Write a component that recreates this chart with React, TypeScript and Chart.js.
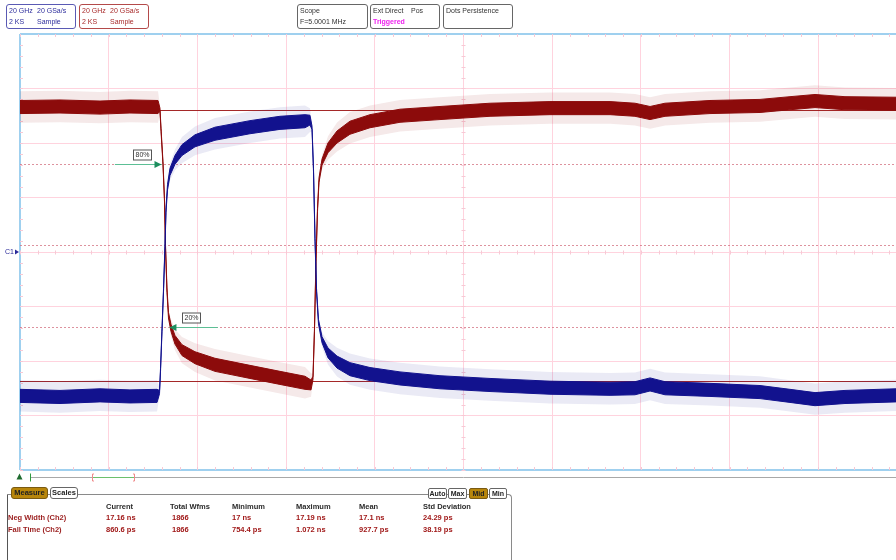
import React, { useEffect, useRef } from "react";
import { Chart, registerables } from "chart.js";

Chart.register(...registerables);

// ---- Data (time in ns, level in vertical divisions) ----
const redTime = [0, 4.51, 9.02, 12.4, 15.56, 15.78, 15.9, 16.12, 16.29, 16.4, 16.57, 16.74, 17.02, 17.47, 18.26, 19.73, 21.98, 25.93, 29.31, 32.13, 32.81, 33.03, 33.2, 33.37, 33.54, 33.71, 34.05, 34.72, 35.74, 37.2, 39.46, 42.84, 47.35, 52.99, 59.75, 66.52, 69.33, 71.03, 72.72, 77.79, 83.43, 86.81, 89.63, 93.01, 98.76];
const redLevel = [2.66, 2.67, 2.65, 2.67, 2.66, 2.61, 2.24, 1.63, 0.95, 0.13, -0.7, -1.16, -1.39, -1.61, -1.8, -1.94, -2.07, -2.2, -2.31, -2.4, -2.44, -2.31, -1.43, -0.15, 0.77, 1.32, 1.65, 1.91, 2.11, 2.28, 2.4, 2.5, 2.55, 2.61, 2.64, 2.64, 2.61, 2.55, 2.61, 2.66, 2.68, 2.73, 2.77, 2.73, 2.72];
const redSpread = [0.12, 0.12, 0.12, 0.12, 0.12, 0.03, 0.03, 0.03, 0.03, 0.03, 0.04, 0.05, 0.065, 0.08, 0.1, 0.11, 0.12, 0.12, 0.12, 0.12, 0.09, 0.03, 0.03, 0.03, 0.03, 0.04, 0.055, 0.09, 0.11, 0.12, 0.12, 0.12, 0.12, 0.12, 0.12, 0.12, 0.12, 0.12, 0.12, 0.12, 0.12, 0.12, 0.12, 0.12, 0.12];

const blueTime = [0, 4.51, 9.02, 12.4, 15.45, 15.73, 15.84, 16.01, 16.18, 16.35, 16.46, 16.63, 16.91, 17.47, 18.26, 19.73, 21.98, 25.93, 29.31, 32.13, 32.69, 32.92, 33.09, 33.26, 33.43, 33.65, 34.05, 34.72, 35.74, 37.2, 39.46, 42.84, 47.35, 52.99, 59.75, 66.52, 69.33, 71.03, 72.72, 77.79, 83.43, 86.81, 89.63, 93.01, 98.76];
const blueLevel = [-2.64, -2.66, -2.63, -2.65, -2.64, -2.57, -2.17, -1.43, -0.7, 0.13, 0.77, 1.19, 1.47, 1.69, 1.87, 2.04, 2.17, 2.29, 2.37, 2.4, 2.42, 2.28, 1.5, 0.22, -0.7, -1.28, -1.61, -1.85, -2.02, -2.15, -2.24, -2.32, -2.39, -2.44, -2.49, -2.51, -2.5, -2.43, -2.5, -2.53, -2.57, -2.64, -2.7, -2.66, -2.63];
const blueSpread = [0.12, 0.12, 0.12, 0.12, 0.12, 0.03, 0.03, 0.03, 0.03, 0.03, 0.04, 0.05, 0.065, 0.08, 0.1, 0.11, 0.12, 0.12, 0.12, 0.12, 0.09, 0.03, 0.03, 0.03, 0.03, 0.04, 0.055, 0.09, 0.11, 0.12, 0.12, 0.12, 0.12, 0.12, 0.12, 0.12, 0.12, 0.12, 0.12, 0.12, 0.12, 0.12, 0.12, 0.12, 0.12];

const refSolidLevels = [2.61, -2.37];
const refDashedLevels = [1.61, 0.12, -1.37];
const thresholdLabels = ["80%", "20%"];
const thresholdLevels = [1.61, -1.37];

const xMin = 0;
const xMax = 98.76;
const xStep = 10;
const yMin = -4;
const yMax = 4;
const yStep = 1;

const headerLeft = [
  ["20 GHz", "20 GSa/s"],
  ["2 KS", "Sample"],
];
const headerRight = [
  ["20 GHz", "20 GSa/s"],
  ["2 KS", "Sample"],
];
const scopeLines = ["Scope", "F=5.0001 MHz"];
const trigLines = ["Ext Direct", "Pos", "Triggered"];
const persistLabel = "Dots Persistence";

const tabLabels = ["Measure", "Scales"];
const modeButtons = ["Auto", "Max", "Mid", "Min"];
const columnHeaders = ["Current", "Total Wfms", "Minimum", "Maximum", "Mean", "Std Deviation"];
const measureNames = ["Neg Width (Ch2)", "Fall Time (Ch2)"];
const negWidthValues = ["17.16 ns", "1866", "17 ns", "17.19 ns", "17.1 ns", "24.29 ps"];
const fallTimeValues = ["860.6 ps", "1866", "754.4 ps", "1.072 ns", "927.7 ps", "38.19 ps"];

// ---- styles ----
const RED = "#8c0b0b";
const BLUE = "#12128e";
const PINK = "#ffd3de";
const LIGHTBLUE = "#9fd0ef";
const HALO = 2.4;

const edge = (t: number[], c: number[], s: number[], k: number) =>
  t.map((x, i) => ({ x, y: c[i] + k * s[i] }));

const overlayPlugin = {
  id: "scopeOverlay",
  beforeDatasetsDraw(chart: any) {
    const { ctx, chartArea, scales } = chart;
    const { left, right, top, bottom } = chartArea;
    const x = scales.x;
    const y = scales.y;
    ctx.save();
    // minor ticks
    ctx.strokeStyle = "#f7c9d5";
    ctx.lineWidth = 1;
    const y0 = Math.round(y.getPixelForValue(0)) + 0.5;
    const xc = Math.round(x.getPixelForValue(50)) + 0.5;
    for (let t = xMin; t <= xMax; t += 2) {
      const px = Math.round(x.getPixelForValue(t)) + 0.5;
      ctx.beginPath();
      ctx.moveTo(px, top);
      ctx.lineTo(px, top + 3);
      ctx.moveTo(px, y0 - 2);
      ctx.lineTo(px, y0 + 2);
      ctx.moveTo(px, bottom);
      ctx.lineTo(px, bottom - 3);
      ctx.stroke();
    }
    for (let v = yMin; v <= yMax; v += 0.2) {
      const py = Math.round(y.getPixelForValue(v)) + 0.5;
      ctx.beginPath();
      ctx.moveTo(xc - 2, py);
      ctx.lineTo(xc + 2, py);
      ctx.moveTo(left, py);
      ctx.lineTo(left + 3, py);
      ctx.stroke();
    }
    // dashed threshold lines
    ctx.setLineDash([2, 2]);
    ctx.strokeStyle = "rgba(210,110,125,0.75)";
    refDashedLevels.forEach((v) => {
      const py = Math.round(y.getPixelForValue(v)) + 0.5;
      ctx.beginPath();
      ctx.moveTo(left, py);
      ctx.lineTo(right, py);
      ctx.stroke();
    });
    ctx.setLineDash([]);
    ctx.strokeStyle = "#a52828";
    refSolidLevels.forEach((v) => {
      const py = Math.round(y.getPixelForValue(v)) + 0.5;
      ctx.beginPath();
      ctx.moveTo(left, py);
      ctx.lineTo(right, py);
      ctx.stroke();
    });
    ctx.restore();
  },
  afterDatasetsDraw(chart: any) {
    const { ctx, chartArea, scales } = chart;
    const { right, bottom } = chartArea;
    const x = scales.x;
    const y = scales.y;
    ctx.save();
    // threshold arrows + labels
    const arrows = [
      { from: 10.7, to: 15.95, box: 13.75 },
      { from: 22.3, to: 16.85, box: 19.28 },
    ];
    arrows.forEach((a, i) => {
      const py = Math.round(y.getPixelForValue(thresholdLevels[i])) + 0.5;
      const x1 = x.getPixelForValue(a.from);
      const x2 = x.getPixelForValue(a.to);
      ctx.strokeStyle = "#5cbf95";
      ctx.lineWidth = 1;
      ctx.beginPath();
      ctx.moveTo(x1, py);
      ctx.lineTo(x2, py);
      ctx.stroke();
      const dir = x2 > x1 ? 1 : -1;
      ctx.fillStyle = "#1d8e5e";
      ctx.beginPath();
      ctx.moveTo(x2, py);
      ctx.lineTo(x2 - dir * 7, py - 3.5);
      ctx.lineTo(x2 - dir * 7, py + 3.5);
      ctx.closePath();
      ctx.fill();
      const bx = Math.round(x.getPixelForValue(a.box));
      const by = py - 10;
      ctx.fillStyle = "#fff";
      ctx.fillRect(bx - 9, by - 5, 18, 10);
      ctx.strokeStyle = "#555";
      ctx.strokeRect(bx - 9 + 0.5, by - 5 + 0.5, 18, 10);
      ctx.fillStyle = "#333";
      ctx.font = "7px 'Liberation Sans', Arial, sans-serif";
      ctx.textAlign = "center";
      ctx.textBaseline = "middle";
      ctx.fillText(thresholdLabels[i], bx + 0.5, by + 0.5);
    });
    // channel marker
    const py0 = y.getPixelForValue(0);
    ctx.fillStyle = "#2a2a9a";
    ctx.font = "7px 'Liberation Sans', Arial, sans-serif";
    ctx.textAlign = "left";
    ctx.textBaseline = "middle";
    ctx.fillText("C1", 5, py0);
    ctx.beginPath();
    ctx.moveTo(19, py0);
    ctx.lineTo(15, py0 - 2.5);
    ctx.lineTo(15, py0 + 2.5);
    ctx.closePath();
    ctx.fill();
    // timeline
    const ty = bottom + 7.5;
    ctx.strokeStyle = "#a8a8a8";
    ctx.lineWidth = 1;
    ctx.beginPath();
    ctx.moveTo(31, ty);
    ctx.lineTo(right, ty);
    ctx.stroke();
    ctx.fillStyle = "#1e6b2e";
    ctx.beginPath();
    ctx.moveTo(19.5, ty - 4);
    ctx.lineTo(16.5, ty + 2);
    ctx.lineTo(22.5, ty + 2);
    ctx.closePath();
    ctx.fill();
    ctx.strokeStyle = "#2f9a3f";
    ctx.beginPath();
    ctx.moveTo(30.5, ty - 4);
    ctx.lineTo(30.5, ty + 4);
    ctx.stroke();
    ctx.strokeStyle = "#6cc06c";
    ctx.beginPath();
    ctx.moveTo(93, ty);
    ctx.lineTo(134, ty);
    ctx.stroke();
    ctx.strokeStyle = "#f08a8a";
    ctx.beginPath();
    ctx.moveTo(94, ty - 3.5);
    ctx.lineTo(92.5, ty - 3.5);
    ctx.lineTo(92.5, ty + 3.5);
    ctx.lineTo(94, ty + 3.5);
    ctx.moveTo(133, ty - 3.5);
    ctx.lineTo(134.5, ty - 3.5);
    ctx.lineTo(134.5, ty + 3.5);
    ctx.lineTo(133, ty + 3.5);
    ctx.stroke();
    ctx.restore();
  },
};

const lineBase = { pointRadius: 0, tension: 0, borderWidth: 1 };

const FONT = "'Liberation Sans', Arial, sans-serif";

const boxBase: React.CSSProperties = {
  position: "absolute",
  top: 4,
  height: 25,
  boxSizing: "border-box",
  borderRadius: 3,
  fontSize: 7,
  lineHeight: "11px",
  paddingLeft: 2,
  whiteSpace: "nowrap",
};

const colX = [106, 170, 232, 296, 359, 423];
const valX = [106, 172, 232, 296, 359, 423];

export default function App() {
  const ref = useRef<HTMLCanvasElement>(null);
  useEffect(() => {
    const chart = new Chart(ref.current as HTMLCanvasElement, {
      type: "line",
      data: {
        datasets: [
          { ...lineBase, label: "Ch1 hi", data: edge(blueTime, blueLevel, blueSpread, 1), borderColor: BLUE, fill: false },
          { ...lineBase, label: "Ch1 lo", data: edge(blueTime, blueLevel, blueSpread, -1), borderColor: BLUE, backgroundColor: BLUE, fill: { target: 0 } },
          { ...lineBase, label: "Ch2 hi", data: edge(redTime, redLevel, redSpread, 1), borderColor: RED, fill: false },
          { ...lineBase, label: "Ch2 lo", data: edge(redTime, redLevel, redSpread, -1), borderColor: RED, backgroundColor: RED, fill: { target: 2 } },
          { ...lineBase, borderWidth: 0, label: "Ch1 halo hi", data: edge(blueTime, blueLevel, blueSpread, HALO), borderColor: "rgba(0,0,0,0)", fill: false },
          { ...lineBase, borderWidth: 0, label: "Ch1 halo lo", data: edge(blueTime, blueLevel, blueSpread, -HALO), borderColor: "rgba(0,0,0,0)", backgroundColor: "rgba(18,18,142,0.09)", fill: { target: 4 } },
          { ...lineBase, borderWidth: 0, label: "Ch2 halo hi", data: edge(redTime, redLevel, redSpread, HALO), borderColor: "rgba(0,0,0,0)", fill: false },
          { ...lineBase, borderWidth: 0, label: "Ch2 halo lo", data: edge(redTime, redLevel, redSpread, -HALO), borderColor: "rgba(0,0,0,0)", backgroundColor: "rgba(140,11,11,0.09)", fill: { target: 6 } },
        ],
      },
      options: {
        animation: false,
        responsive: false,
        devicePixelRatio: 1,
        events: [],
        layout: { padding: { left: 20, top: 34, right: 0, bottom: 90 } },
        plugins: { legend: { display: false }, tooltip: { enabled: false } },
        scales: {
          x: {
            type: "linear",
            min: xMin,
            max: xMax,
            ticks: { display: false, stepSize: xStep, includeBounds: false },
            border: { display: false },
            grid: {
              drawTicks: false,
              color: (c: any) => (c.tick && c.tick.value === 0 ? LIGHTBLUE : PINK),
              lineWidth: (c: any) => (c.tick && c.tick.value === 0 ? 2 : 1),
            },
          },
          y: {
            type: "linear",
            min: yMin,
            max: yMax,
            ticks: { display: false, stepSize: yStep },
            border: { display: false },
            grid: {
              drawTicks: false,
              color: (c: any) => (c.tick && Math.abs(c.tick.value) === 4 ? LIGHTBLUE : PINK),
              lineWidth: (c: any) => (c.tick && Math.abs(c.tick.value) === 4 ? 2 : 1),
            },
          },
        },
      } as any,
      plugins: [overlayPlugin],
    });
    return () => chart.destroy();
  }, []);

  const twoCol = (rows: string[][], color: string) =>
    rows.map((r, i) => (
      <div key={i} style={{ color }}>
        <span style={{ display: "inline-block", width: 28 }}>{r[0]}</span>
        {r[1]}
      </div>
    ));

  return (
    <div
      style={{
        position: "fixed",
        left: 0,
        top: 0,
        width: 896,
        height: 560,
        overflow: "hidden",
        background: "#fff",
        fontFamily: FONT,
      }}
    >
      <canvas ref={ref} width={896} height={560} style={{ position: "absolute", left: 0, top: 0, width: 896, height: 560 }} />

      {/* header boxes */}
      <div style={{ ...boxBase, left: 6, width: 70, border: "1px solid #5a5ab4" }}>{twoCol(headerLeft, "#2d2d9c")}</div>
      <div style={{ ...boxBase, left: 79, width: 70, border: "1px solid #b44a4a" }}>{twoCol(headerRight, "#a82a2a")}</div>
      <div style={{ ...boxBase, left: 297, width: 71, border: "1px solid #666", color: "#333" }}>
        <div>{scopeLines[0]}</div>
        <div>{scopeLines[1]}</div>
      </div>
      <div style={{ ...boxBase, left: 370, width: 70, border: "1px solid #666", color: "#333" }}>
        <div>
          <span style={{ display: "inline-block", width: 38 }}>{trigLines[0]}</span>
          {trigLines[1]}
        </div>
        <div style={{ color: "#ee22ee", fontWeight: "bold" }}>{trigLines[2]}</div>
      </div>
      <div style={{ ...boxBase, left: 443, width: 70, border: "1px solid #666", color: "#333" }}>
        <div>{persistLabel}</div>
      </div>

      {/* measure panel */}
      <div
        style={{
          position: "absolute",
          left: 7,
          top: 494,
          width: 505,
          height: 90,
          boxSizing: "border-box",
          borderTop: "1px solid #8a8a8a",
          borderLeft: "1px solid #555",
          borderRight: "1px solid #8a8a8a",
          borderTopRightRadius: 4,
        }}
      />
      {tabLabels.map((t, i) => (
        <div
          key={t}
          style={{
            position: "absolute",
            left: i === 0 ? 11 : 50,
            top: 487,
            width: i === 0 ? 37 : 28,
            height: 12,
            boxSizing: "border-box",
            borderRadius: 3,
            border: i === 0 ? "1px solid #7a5a12" : "1px solid #666",
            background: i === 0 ? "#b8860b" : "#fff",
            fontSize: 7.5,
            fontWeight: "bold",
            lineHeight: "10px",
            textAlign: "center",
            color: "#222",
          }}
        >
          {t}
        </div>
      ))}
      {modeButtons.map((b, i) => (
        <div
          key={b}
          style={{
            position: "absolute",
            left: [428, 448, 469, 489][i],
            top: 488,
            width: i === 3 ? 18 : 19,
            height: 11,
            boxSizing: "border-box",
            borderRadius: 2,
            border: b === "Mid" ? "1px solid #7a5a12" : "1px solid #666",
            background: b === "Mid" ? "#b8860b" : "#fff",
            fontSize: 7,
            fontWeight: "bold",
            lineHeight: "9px",
            textAlign: "center",
            color: "#222",
          }}
        >
          {b}
        </div>
      ))}
      {columnHeaders.map((h, i) => (
        <div key={h} style={{ position: "absolute", left: colX[i], top: 502, fontSize: 7.5, fontWeight: "bold", lineHeight: "10px", color: "#2a2a2a", whiteSpace: "nowrap" }}>
          {h}
        </div>
      ))}
      {measureNames.map((n, r) => (
        <React.Fragment key={n}>
          <div style={{ position: "absolute", left: 8, top: 513 + r * 11.5, fontSize: 7.5, fontWeight: "bold", lineHeight: "10px", color: "#9a1c1c", whiteSpace: "nowrap" }}>
            {n}
          </div>
          {(r === 0 ? negWidthValues : fallTimeValues).map((v, i) => (
            <div key={i} style={{ position: "absolute", left: valX[i], top: 513 + r * 11.5, fontSize: 7.5, fontWeight: "bold", lineHeight: "10px", color: "#a01818", whiteSpace: "nowrap" }}>
              {v}
            </div>
          ))}
        </React.Fragment>
      ))}
    </div>
  );
}
